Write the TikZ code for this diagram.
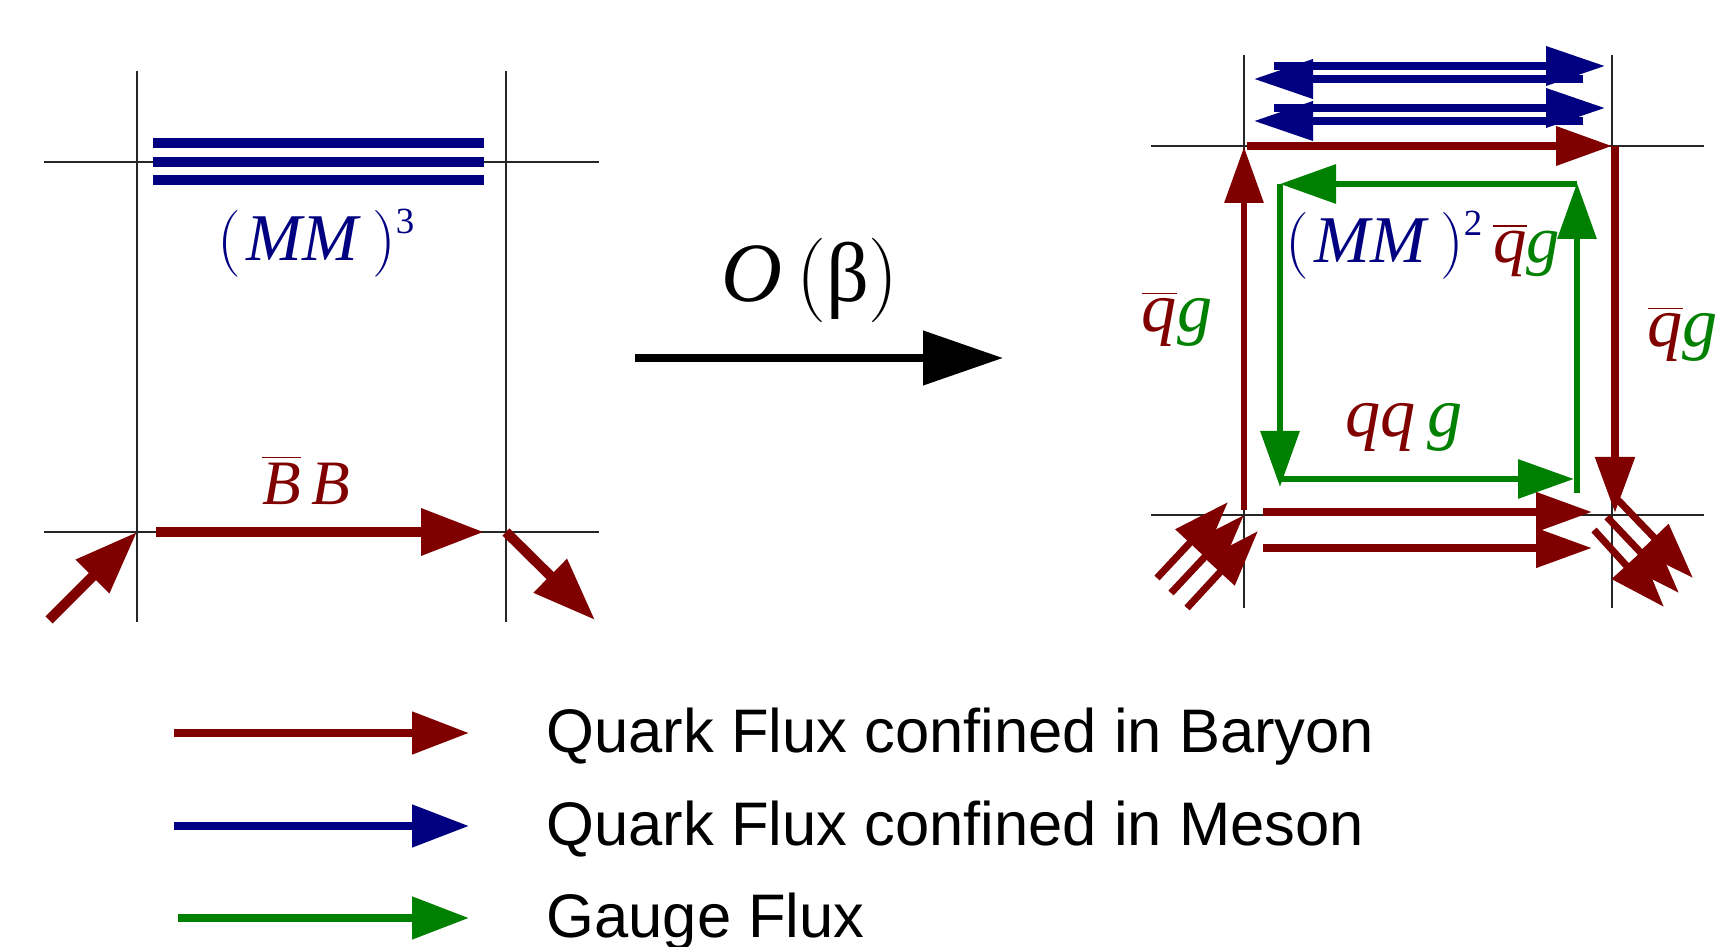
\documentclass[tikz,border=0pt]{standalone}
\usepackage{fontspec}
\setmainfont{Liberation Sans}
\newfontfamily\timesface{Liberation Serif}
\newfontfamily\lmface{Latin Modern Roman}
\usepackage{tikz}
\usepackage{xcolor}
\usetikzlibrary{arrows.meta,positioning,calc}
\definecolor{baryonRed}{RGB}{128,0,0}
\definecolor{mesonBlue}{RGB}{0,0,128}
\definecolor{gaugeGreen}{RGB}{0,128,0}
\newcommand{\antiq}{$\overline{\hbox{\itshape q}}$}
\newcommand{\antiB}{$\overline{\hbox{\itshape B}}$}
\newcommand{\supnum}[1]{\raisebox{7.8pt}{\fontsize{10.5}{11}\selectfont #1}}
\newcommand{\mesons}[1]{{\lmface(}\kern1.5pt\textit{MM}\,{\lmface)}\supnum{#1}}

\begin{document}
\begin{tikzpicture}[
    grid/.style={draw=black!85, line width=0.45pt},
    bigflux/.style={line width=2.85pt, -{Triangle[length=0.63cm,width=0.45cm]}},
    flux/.style={line width=2pt, -{Triangle[length=0.56cm,width=0.38cm]}},
    keyarrow/.style={line width=2.3pt, -{Triangle[length=0.57cm,width=0.41cm]}},
    lbl/.style={font=\timesface\fontsize{19}{22}\selectfont, inner sep=0pt},
    keytext/.style={font=\fontsize{17.5}{21}\selectfont, anchor=base west, inner sep=0pt}
  ]
  \useasboundingbox (0,0) rectangle (17.16,-9.47);

  % left plaquette
  \coordinate (lTL) at (1.37,-1.62);
  \coordinate (lTR) at (5.06,-1.62);
  \coordinate (lBL) at (1.37,-5.32);
  \coordinate (lBR) at (5.06,-5.32);
  \draw[grid] (1.37,-0.71) -- (1.37,-6.22);
  \draw[grid] (5.06,-0.71) -- (5.06,-6.22);
  \draw[grid] (0.44,-1.62) -- (5.99,-1.62);
  \draw[grid] (0.44,-5.32) -- (5.99,-5.32);

  \draw[mesonBlue, line width=2.9pt] (1.53,-1.43) -- (4.84,-1.43);
  \draw[mesonBlue, line width=2.9pt] (1.53,-1.62) -- (4.84,-1.62);
  \draw[mesonBlue, line width=2.9pt] (1.53,-1.80) -- (4.84,-1.80);
  \node[lbl, text=mesonBlue] (mm3) at (3.16,-2.43) {\mesons{3}};

  \node[lbl, font=\timesface\fontsize{18}{21}\selectfont, text=baryonRed] (bb) at (3.06,-4.80) {\antiB\,\textit{B}};
  \draw[bigflux, baryonRed] (1.56,-5.32) -- (4.84,-5.32);
  \draw[bigflux, baryonRed] (0.49,-6.20) -- (lBL);
  \draw[bigflux, baryonRed] (lBR) -- (5.95,-6.20);

  % strong coupling step
  \node[lbl, font=\timesface\fontsize{24}{28}\selectfont] (order) at (8.10,-2.80)
    {\textit{O}\,{\lmface(}β{\lmface)}};
  \coordinate (sA) at (6.35,-3.58);
  \coordinate (sB) at (10.03,-3.58);
  \draw[line width=2.2pt, -{Triangle[length=0.80cm,width=0.53cm]}] (sA) -- (sB);

  % right plaquette
  \coordinate (rTL) at (12.44,-1.46);
  \coordinate (rTR) at (16.12,-1.46);
  \coordinate (rBL) at (12.44,-5.15);
  \coordinate (rBR) at (16.12,-5.15);
  \draw[grid] (12.44,-0.55) -- (12.44,-6.08);
  \draw[grid] (16.12,-0.55) -- (16.12,-6.08);
  \draw[grid] (11.51,-1.46) -- (17.04,-1.46);
  \draw[grid] (11.51,-5.15) -- (17.04,-5.15);

  % meson pairs
  \draw[flux, mesonBlue, -{Triangle[length=0.59cm,width=0.38cm]}] (12.74,-0.66) -- (16.05,-0.66);
  \draw[flux, mesonBlue, -{Triangle[length=0.59cm,width=0.38cm]}] (15.83,-0.79) -- (12.54,-0.79);
  \draw[flux, mesonBlue, -{Triangle[length=0.59cm,width=0.38cm]}] (12.74,-1.08) -- (16.05,-1.08);
  \draw[flux, mesonBlue, -{Triangle[length=0.59cm,width=0.38cm]}] (15.83,-1.21) -- (12.54,-1.21);

  % baryon flux
  \draw[flux, baryonRed] (12.47,-1.46) -- (rTR);
  \draw[flux, baryonRed, line width=1.8pt] (12.44,-5.10) -- (12.44,-1.47);
  \draw[flux, baryonRed, line width=2.4pt] (16.15,-1.46) -- (16.15,-5.13);
  \draw[flux, baryonRed, line width=2.2pt] (12.63,-5.12) -- (15.92,-5.12);
  \draw[flux, baryonRed, line width=2.2pt] (12.63,-5.48) -- (15.92,-5.48);

  \draw[flux, baryonRed] (11.57,-5.78) -- (12.28,-5.02);
  \draw[flux, baryonRed] (11.71,-5.93) -- (rBL);
  \draw[flux, baryonRed] (11.87,-6.08) -- (12.58,-5.31);
  \draw[flux, baryonRed] (15.94,-5.30) -- (16.64,-6.07);
  \draw[flux, baryonRed] (16.07,-5.17) -- (16.79,-5.93);
  \draw[flux, baryonRed] (16.18,-5.00) -- (16.93,-5.78);

  % gauge loop
  \draw[flux, gaugeGreen, line width=1.8pt] (15.77,-1.84) -- (12.80,-1.84);
  \draw[flux, gaugeGreen, line width=1.8pt] (12.80,-1.84) -- (12.80,-4.87);
  \draw[flux, gaugeGreen, line width=1.8pt] (12.80,-4.79) -- (15.74,-4.79);
  \draw[flux, gaugeGreen, line width=1.8pt] (15.77,-4.93) -- (15.77,-1.83);

  \node[lbl, font=\timesface\fontsize{20}{24}\selectfont] (qgL) at (11.77,-3.19) {{\color{baryonRed}\antiq}{\color{gaugeGreen}\textit{g}}};
  \node[lbl] (mm2) at (14.23,-2.45) {{\color{mesonBlue}\mesons{2}}\,{\color{baryonRed}\antiq}{\color{gaugeGreen}\textit{g}}};
  \node[lbl, font=\timesface\fontsize{20}{24}\selectfont] (qqg) at (14.04,-4.27) {{\color{baryonRed}\textit{qq}}\,{\color{gaugeGreen}\textit{g}}};
  \node[lbl, font=\timesface\fontsize{20}{24}\selectfont, anchor=west] (qgR) at (16.47,-3.34) {{\color{baryonRed}\antiq}{\color{gaugeGreen}\textit{g}}};

  % legend
  \draw[keyarrow, baryonRed] (1.74,-7.33) -- (4.69,-7.33);
  \draw[keyarrow, mesonBlue] (1.74,-8.26) -- (4.69,-8.26);
  \draw[keyarrow, gaugeGreen] (1.78,-9.18) -- (4.69,-9.18);
  \node[keytext] (kBaryon) at (5.46,-7.53) {Quark Flux confined in Baryon};
  \node[keytext] (kMeson) at (5.46,-8.46) {Quark Flux confined in Meson};
  \node[keytext] (kGauge) at (5.46,-9.38) {Gauge Flux};
\end{tikzpicture}
\end{document}
